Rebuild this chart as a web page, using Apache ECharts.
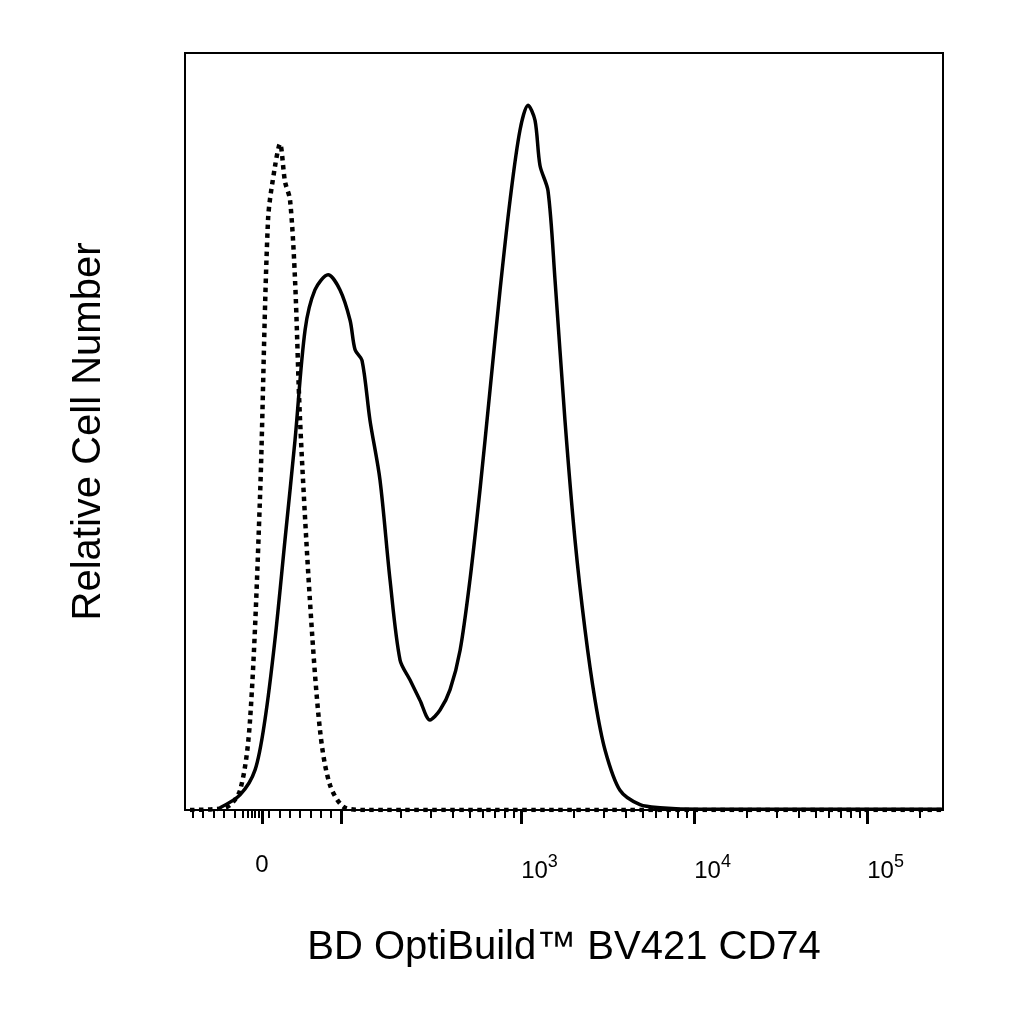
<!DOCTYPE html>
<html><head><meta charset="utf-8">
<script src="https://cdn.jsdelivr.net/npm/echarts@6/dist/echarts.min.js"></script>
<style>html,body{margin:0;padding:0;background:#fff}#c{width:1024px;height:1024px}</style>
</head><body><div id="c"></div>
<script>
// x in display units (biexponential: 0 at 0, one decade = 1 unit, 10^3 at 1.5)
var isoX=[-0.416,-0.214,-0.127,-0.069,-0.012,0.035,0.075,0.104,0.133,0.162,0.191,0.220,0.277,0.335,0.393,0.480,0.6,3.936];
var isoY=[0,0.3,2.6,11.9,41,78,85,88,83,80.6,70,51.5,27.7,10.6,3.3,0.3,0,0];
var cdX=[-0.243,-0.127,-0.040,0.017,0.075,0.133,0.191,0.249,0.306,0.382,0.451,0.509,0.538,0.578,0.624,0.682,0.740,0.798,0.855,0.913,0.971,1.029,1.087,1.145,1.202,1.260,1.318,1.376,1.434,1.491,1.538,1.578,1.607,1.653,1.694,1.751,1.809,1.867,1.925,1.983,2.069,2.185,2.301,2.532,3.936];
var cdY=[0.3,2,5.3,11.9,22.5,35.7,48.9,63.4,68.7,70.7,68.7,64.7,60.8,59.4,51.5,43.6,30.4,19.8,17.2,14.5,11.9,13.2,15.9,21.1,30.4,42.3,55.5,68.7,80.6,89.8,93.1,91.1,85.1,81.8,69.9,51.5,35.7,23.8,14.5,7.9,2.6,0.7,0.3,0.1,0.1];
var majorTicks=[0,0.46,1.5,2.5,3.5];
var labelTicks=[0,1.5,2.5,3.5];
var labelText=['0','{p|}{b|10}{s|3}','{p|}{b|10}{s|4}','{p|}{b|10}{s|5}'];
var minorTicks=[-0.40,-0.34,-0.28,-0.22,-0.16,-0.11,-0.08,-0.06,-0.04,-0.02,0.04,0.1,0.16,0.22,0.28,0.34,0.40];
[1.5,2.5,3.5].forEach(function(d){for(var k=2;k<=9;k++){var v=d-1+Math.log10(k);if(v>0.5&&v<3.93)minorTicks.push(v);var w=d+Math.log10(k);if(w<3.93&&d==3.5)minorTicks.push(w);}});
function pairs(xs,ys){return xs.map(function(x,i){return [x,ys[i]];});}
var XMIN=-0.445,XMAX=3.936;
var chart=echarts.init(document.getElementById('c'));
chart.setOption({
 animation:false,
 grid:{left:185,right:81,top:53,bottom:214,show:true,borderColor:'#000',borderWidth:2,containLabel:false},
 xAxis:[{type:'value',min:XMIN,max:XMAX,position:'bottom',
   axisLine:{show:true,lineStyle:{color:'#000',width:2}},
   splitLine:{show:false},
   axisTick:{show:true,length:14,inside:false,customValues:majorTicks,lineStyle:{color:'#000',width:3}},
   axisLabel:{show:true,margin:43,customValues:labelTicks,color:'#000',fontFamily:'Liberation Sans',fontSize:24,
     formatter:function(v){var i=labelTicks.indexOf(v);return i>=0?labelText[i]:'';},
     rich:{p:{width:36},b:{fontSize:24,fontFamily:'Liberation Sans',color:'#000'},s:{fontSize:18,fontFamily:'Liberation Sans',color:'#000',padding:[0,0,18,0]}}},
   name:'BD OptiBuild™ BV421 CD74',nameLocation:'middle',nameGap:118,
   nameTextStyle:{fontFamily:'Liberation Sans',fontSize:40,color:'#000'}},
  {type:'value',min:XMIN,max:XMAX,position:'bottom',axisLine:{show:false},splitLine:{show:false},
   axisTick:{show:true,length:8,customValues:minorTicks,lineStyle:{color:'#000',width:2}},axisLabel:{show:false}}],
 yAxis:{type:'value',min:0,max:100,axisLine:{show:false},axisTick:{show:false},axisLabel:{show:false},splitLine:{show:false},
   name:'Relative Cell Number',nameLocation:'middle',nameGap:76,
   nameTextStyle:{fontFamily:'Liberation Sans',fontSize:40,color:'#000'}},
 series:[
  {type:'line',data:pairs(isoX,isoY),showSymbol:false,smooth:0.3,lineStyle:{color:'#000',width:4.5,type:'dotted'}},
  {type:'line',data:pairs(cdX,cdY),showSymbol:false,smooth:0.3,lineStyle:{color:'#000',width:3.5}}
 ]
});
</script></body></html>
